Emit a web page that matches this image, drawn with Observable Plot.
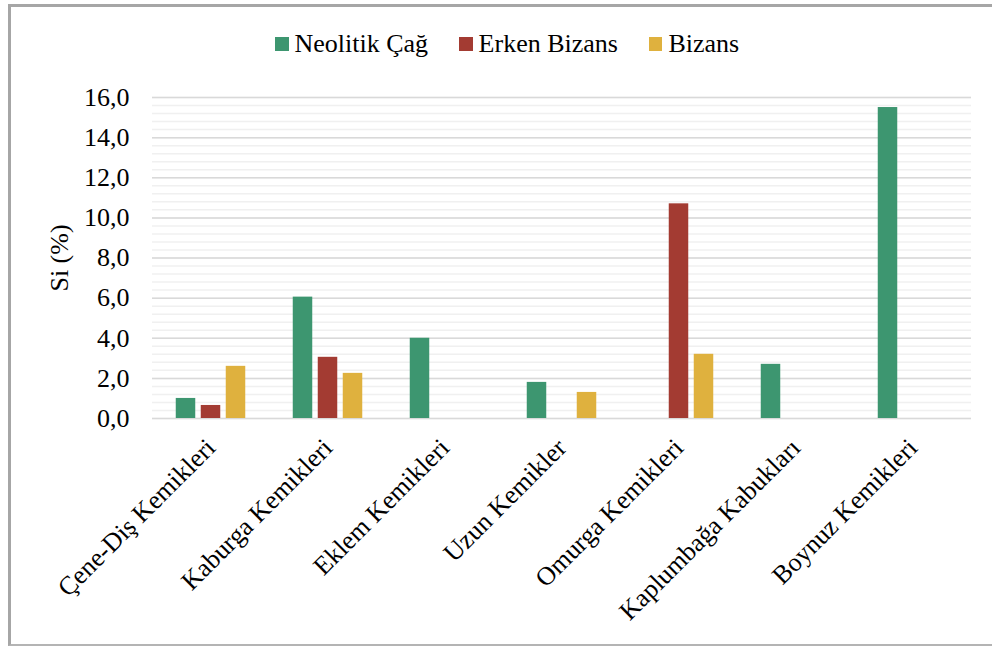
<!DOCTYPE html>
<html>
<head>
<meta charset="utf-8">
<script src="https://cdn.jsdelivr.net/npm/d3@7"></script>
<script src="https://cdn.jsdelivr.net/npm/@observablehq/plot@0.6"></script>
<style>
  html, body { margin: 0; padding: 0; background: #fff; overflow: hidden; }
  body { width: 992px; height: 647px; position: relative; font-family: 'Liberation Serif', serif; }
  #frame {
    position: absolute; left: 8px; top: 4px; width: 1100px; height: 637px;
    border-top: 3px solid #a6a6a6; border-left: 3px solid #a6a6a6; border-bottom: 2px solid #b4b4b4;
    pointer-events: none;
  }
  #legend {
    position: relative; display: flex; align-items: center;
    padding-top: 31px; padding-left: 275px; height: 26px; margin-bottom: 11px;
    font-family: 'Liberation Serif', serif; font-size: 26px; line-height: 26px; color: #000;
  }
  #legend .item { display: flex; align-items: center; margin-right: 31px; }
  #legend .sw { width: 13.5px; height: 13.5px; margin-right: 6px; }
  #chart { position: relative; }
</style>
</head>
<body>
<div id="frame"></div>
<div id="legend"></div>
<div id="chart"></div>
<script>
// Bone groups along the horizontal axis
const categories = [
  "Çene-Diş Kemikleri",
  "Kaburga Kemikleri",
  "Eklem Kemikleri",
  "Uzun Kemikler",
  "Omurga Kemikleri",
  "Kaplumbağa Kabukları",
  "Boynuz Kemikleri"
];

// Periods (one bar per period inside each group)
const series = ["Neolitik Çağ", "Erken Bizans", "Bizans"];
const colors = ["#3d9670", "#a33b32", "#dfb13e"];

// Si (%) per bone group; null = no sample for that period
const neolitik    = [1.0, 6.05, 4.0, 1.8, null, 2.7, 15.5];
const erkenBizans = [0.65, 3.05, null, null, 10.7, null, null];
const bizans      = [2.6, 2.25, null, 1.3, 3.2, null, null];

// Y axis ticks
const yTicks = [0, 2, 4, 6, 8, 10, 12, 14, 16];

const valuesBySeries = [neolitik, erkenBizans, bizans];
const rows = categories.flatMap((category, i) =>
  series.map((s, j) => ({category, series: s, value: valuesBySeries[j][i]}))
).filter(d => d.value != null);

// Legend
const legend = document.getElementById("legend");
series.forEach((s, j) => {
  const item = document.createElement("span");
  item.className = "item";
  const sw = document.createElement("span");
  sw.className = "sw";
  sw.style.background = colors[j];
  const label = document.createElement("span");
  label.textContent = s;
  item.append(sw, label);
  legend.append(item);
});

const fmt = d => d.toFixed(1).replace(".", ",");
const serif = "Liberation Serif";

const chart = Plot.plot({
  width: 992,
  height: 579,
  marginTop: 29,
  marginBottom: 229,
  marginLeft: 151,
  marginRight: 21,
  style: {fontFamily: serif, fontSize: "26px", color: "#000", background: "transparent", overflow: "visible"},
  fx: {domain: categories, padding: 0, label: null},
  x: {domain: series, paddingInner: 0, paddingOuter: 0.7527, axis: null},
  y: {domain: [0, 16], label: null},
  color: {domain: series, range: colors},
  marks: [
    // minor grid every 0.4, major grid at each labelled tick
    Plot.gridY({interval: 0.4, stroke: "#f0f0f0", strokeOpacity: 1, strokeWidth: 1.5}),
    Plot.gridY(yTicks, {stroke: "#d9d9d9", strokeOpacity: 1, strokeWidth: 1.5}),
    Plot.barY(rows, {fx: "category", x: "series", y: "value", fill: "series", insetLeft: 2.75, insetRight: 2.75}),
    Plot.axisY(yTicks, {tickSize: 0, tickPadding: 23, tickFormat: fmt, fontFamily: serif, fontVariant: "normal", label: "Si (%)", labelAnchor: "center", labelOffset: 103, labelArrow: "none"}),
    Plot.axisFx({anchor: "bottom", tickSize: 0, tickPadding: 25, tickRotate: -45, fontFamily: serif, label: null})
  ]
});
document.getElementById("chart").append(chart);
</script>
</body>
</html>
